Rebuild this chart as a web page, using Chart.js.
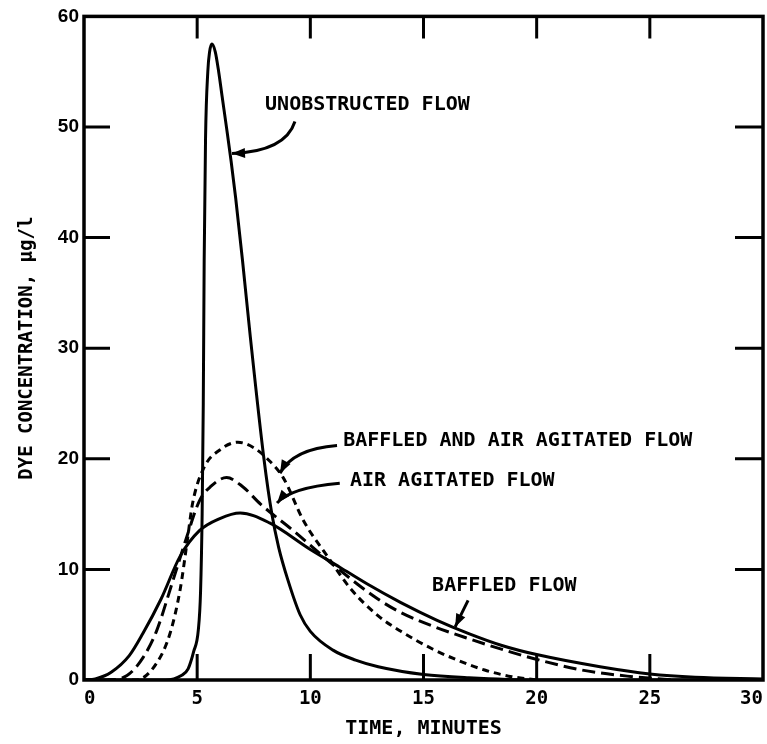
<!DOCTYPE html>
<html>
<head>
<meta charset="utf-8">
<script src="https://cdn.jsdelivr.net/npm/chart.js@4.4.0/dist/chart.umd.min.js"></script>
<style>
html, body { margin: 0; padding: 0; background: #fff; }
</style>
</head>
<body>
<canvas id="dyeChart" width="767" height="744"></canvas>
<script>
// values: time in minutes, dye concentration in ug/l
var unobstructedTime = [0, 3.6, 4.3, 4.6, 4.85, 5.05, 5.15, 5.22, 5.27, 5.31, 5.37, 5.47, 5.55, 5.65, 5.8, 5.95, 6.1, 6.3, 6.5, 6.7, 7.0, 7.35, 7.95, 8.3, 8.6, 9.0, 9.55, 10, 11, 12, 13, 15, 17, 20, 30];
var unobstructedConc = [0, 0, 0.4, 1.0, 2.6, 4.5, 8, 15, 25, 38, 49, 55, 56.8, 57.5, 56.8, 55, 52.8, 49.9, 46.9, 43.6, 38, 31, 20, 15, 12, 9.1, 5.9, 4.4, 2.7, 1.8, 1.2, 0.5, 0.2, 0, 0];

var baffledTime = [0, 0.5, 1.2, 2.0, 2.6, 3.4, 4.25, 5.1, 6.0, 6.9, 8.2, 10, 11.3, 12.5, 14, 15.6, 17, 18.5, 20, 22.8, 25, 27, 30];
var baffledConc = [0, 0.1, 0.7, 2.2, 4.2, 7.3, 11.2, 13.5, 14.6, 15.1, 14.2, 11.8, 10.2, 8.7, 7.0, 5.4, 4.2, 3.1, 2.3, 1.2, 0.55, 0.25, 0.1];

var airTime = [0, 1.0, 1.9, 2.6, 3.2, 3.9, 4.55, 5.1, 5.6, 6.3, 7.0, 7.8, 9.25, 10.9, 13, 14, 15.5, 16.9, 18.9, 20.3, 22, 24, 26];
var airConc = [0, 0, 0.4, 2, 4.4, 8.8, 13, 16.2, 17.5, 18.3, 17.5, 15.9, 13.5, 10.6, 7.3, 6.1, 4.8, 3.8, 2.5, 1.7, 0.9, 0.35, 0];

var baffledAirTime = [0, 2.3, 3.2, 3.8, 4.25, 4.55, 4.8, 5.3, 6.0, 6.8, 7.5, 8.1, 8.8, 9.7, 10.75, 11.8, 13, 14, 15.4, 16.5, 17.7, 18.9, 20];
var baffledAirConc = [0, 0, 1.5, 4.2, 8.2, 12.4, 16, 19.2, 20.8, 21.5, 21, 20, 18.3, 14.4, 11.2, 8.2, 5.8, 4.4, 2.8, 1.8, 0.9, 0.3, 0];

var xTicks = [0, 5, 10, 15, 20, 25, 30];
var yTicks = [0, 10, 20, 30, 40, 50, 60];

var labelFont = "bold 20px 'DejaVu Sans Mono'";

function pts(t, v) {
  return t.map(function (x, i) { return { x: x, y: v[i] }; });
}

// box round the plot with ticks pointing inwards on all sides
var frameTicks = {
  id: "frameTicks",
  afterDatasetsDraw: function (chart) {
    var c = chart.ctx, a = chart.chartArea, xs = chart.scales.x, ys = chart.scales.y;
    c.save();
    c.strokeStyle = "#000";
    c.lineWidth = 3.5;
    c.strokeRect(a.left, a.top, a.right - a.left, a.bottom - a.top);
    c.lineWidth = 3;
    c.beginPath();
    xTicks.forEach(function (t) {
      if (t === xTicks[0] || t === xTicks[xTicks.length - 1]) return;
      var px = xs.getPixelForValue(t);
      c.moveTo(px, a.bottom); c.lineTo(px, a.bottom - 26);
      c.moveTo(px, a.top); c.lineTo(px, a.top + 22);
    });
    yTicks.forEach(function (v) {
      if (v === yTicks[0] || v === yTicks[yTicks.length - 1]) return;
      var py = ys.getPixelForValue(v);
      c.moveTo(a.left, py); c.lineTo(a.left + 26, py);
      c.moveTo(a.right, py); c.lineTo(a.right - 28, py);
    });
    c.stroke();
    c.restore();
  }
};

// curve names with curved arrows, placed in data units
var callouts = [
  { text: "UNOBSTRUCTED FLOW", at: [8.0, 52.0], from: [9.32, 50.5], ctrl: [8.9, 47.8], tip: [6.54, 47.6] },
  { text: "BAFFLED AND AIR AGITATED FLOW", at: [11.45, 21.6], from: [11.18, 21.2], ctrl: [9.24, 20.9], tip: [8.66, 18.7] },
  { text: "AIR AGITATED FLOW", at: [11.75, 18.0], from: [11.3, 17.8], ctrl: [9.1, 17.4], tip: [8.53, 16.0] },
  { text: "BAFFLED FLOW", at: [15.38, 8.5], from: [16.97, 7.2], ctrl: [16.7, 6.1], tip: [16.4, 4.8] }
];

var calloutPlugin = {
  id: "callouts",
  afterDatasetsDraw: function (chart) {
    var c = chart.ctx, xs = chart.scales.x, ys = chart.scales.y;
    function P(p) { return [xs.getPixelForValue(p[0]), ys.getPixelForValue(p[1])]; }
    c.save();
    c.fillStyle = "#000";
    c.strokeStyle = "#000";
    c.font = labelFont;
    c.textAlign = "left";
    c.textBaseline = "middle";
    callouts.forEach(function (o) {
      var at = P(o.at), f = P(o.from), k = P(o.ctrl), t = P(o.tip);
      c.fillText(o.text, at[0], at[1]);
      c.lineWidth = 3;
      c.beginPath();
      c.moveTo(f[0], f[1]);
      c.quadraticCurveTo(k[0], k[1], t[0], t[1]);
      c.stroke();
      var ang = Math.atan2(t[1] - k[1], t[0] - k[0]);
      var len = 13, w = 5;
      c.beginPath();
      c.moveTo(t[0], t[1]);
      c.lineTo(t[0] - len * Math.cos(ang) + w * Math.sin(ang), t[1] - len * Math.sin(ang) - w * Math.cos(ang));
      c.lineTo(t[0] - len * Math.cos(ang) - w * Math.sin(ang), t[1] - len * Math.sin(ang) + w * Math.cos(ang));
      c.closePath();
      c.fill();
    });
    c.restore();
  }
};

var ctx = document.getElementById("dyeChart").getContext("2d");
var myChart = new Chart(ctx, {
  type: "scatter",
  data: {
    datasets: [
      { label: "Unobstructed flow", data: pts(unobstructedTime, unobstructedConc), borderDash: [] },
      { label: "Baffled flow", data: pts(baffledTime, baffledConc), borderDash: [] },
      { label: "Air agitated flow", data: pts(airTime, airConc), borderDash: [13, 6] },
      { label: "Baffled and air agitated flow", data: pts(baffledAirTime, baffledAirConc), borderDash: [7, 5] }
    ].map(function (d) {
      d.showLine = true;
      d.borderColor = "#000";
      d.backgroundColor = "#000";
      d.borderWidth = 3;
      d.pointRadius = 0;
      d.cubicInterpolationMode = "monotone";
      return d;
    })
  },
  options: {
    responsive: false,
    animation: false,
    devicePixelRatio: 1,
    layout: { padding: { top: 15, right: 4, left: 0, bottom: 0 } },
    plugins: { legend: { display: false }, tooltip: { enabled: false } },
    scales: {
      x: {
        type: "linear",
        min: 0,
        max: 30,
        afterFit: function (s) { s.height = 64; s.paddingLeft = 0; s.paddingRight = 0; },
        afterBuildTicks: function (s) { s.ticks = xTicks.map(function (v) { return { value: v }; }); },
        grid: { display: false, drawTicks: false },
        border: { display: false },
        ticks: { color: "#000", padding: 8, align: "inner", font: { family: "DejaVu Sans Mono", size: 19, weight: "bold" } },
        title: { display: true, text: "TIME, MINUTES", color: "#000", padding: { top: 0, bottom: 3 }, font: { family: "DejaVu Sans Mono", size: 20, weight: "bold" } }
      },
      y: {
        min: 0,
        max: 60,
        afterFit: function (s) { s.width = 84; },
        afterBuildTicks: function (s) { s.ticks = yTicks.map(function (v) { return { value: v }; }); },
        grid: { display: false, drawTicks: false },
        border: { display: false },
        ticks: { color: "#000", padding: 5, font: { family: "Liberation Sans", size: 19, weight: "bold" } },
        title: { display: true, text: "DYE CONCENTRATION, µg/l", color: "#000", padding: { top: 16, bottom: 0 }, font: { family: "DejaVu Sans Mono", size: 19, weight: "bold" } }
      }
    }
  },
  plugins: [frameTicks, calloutPlugin]
});
</script>
</body>
</html>
